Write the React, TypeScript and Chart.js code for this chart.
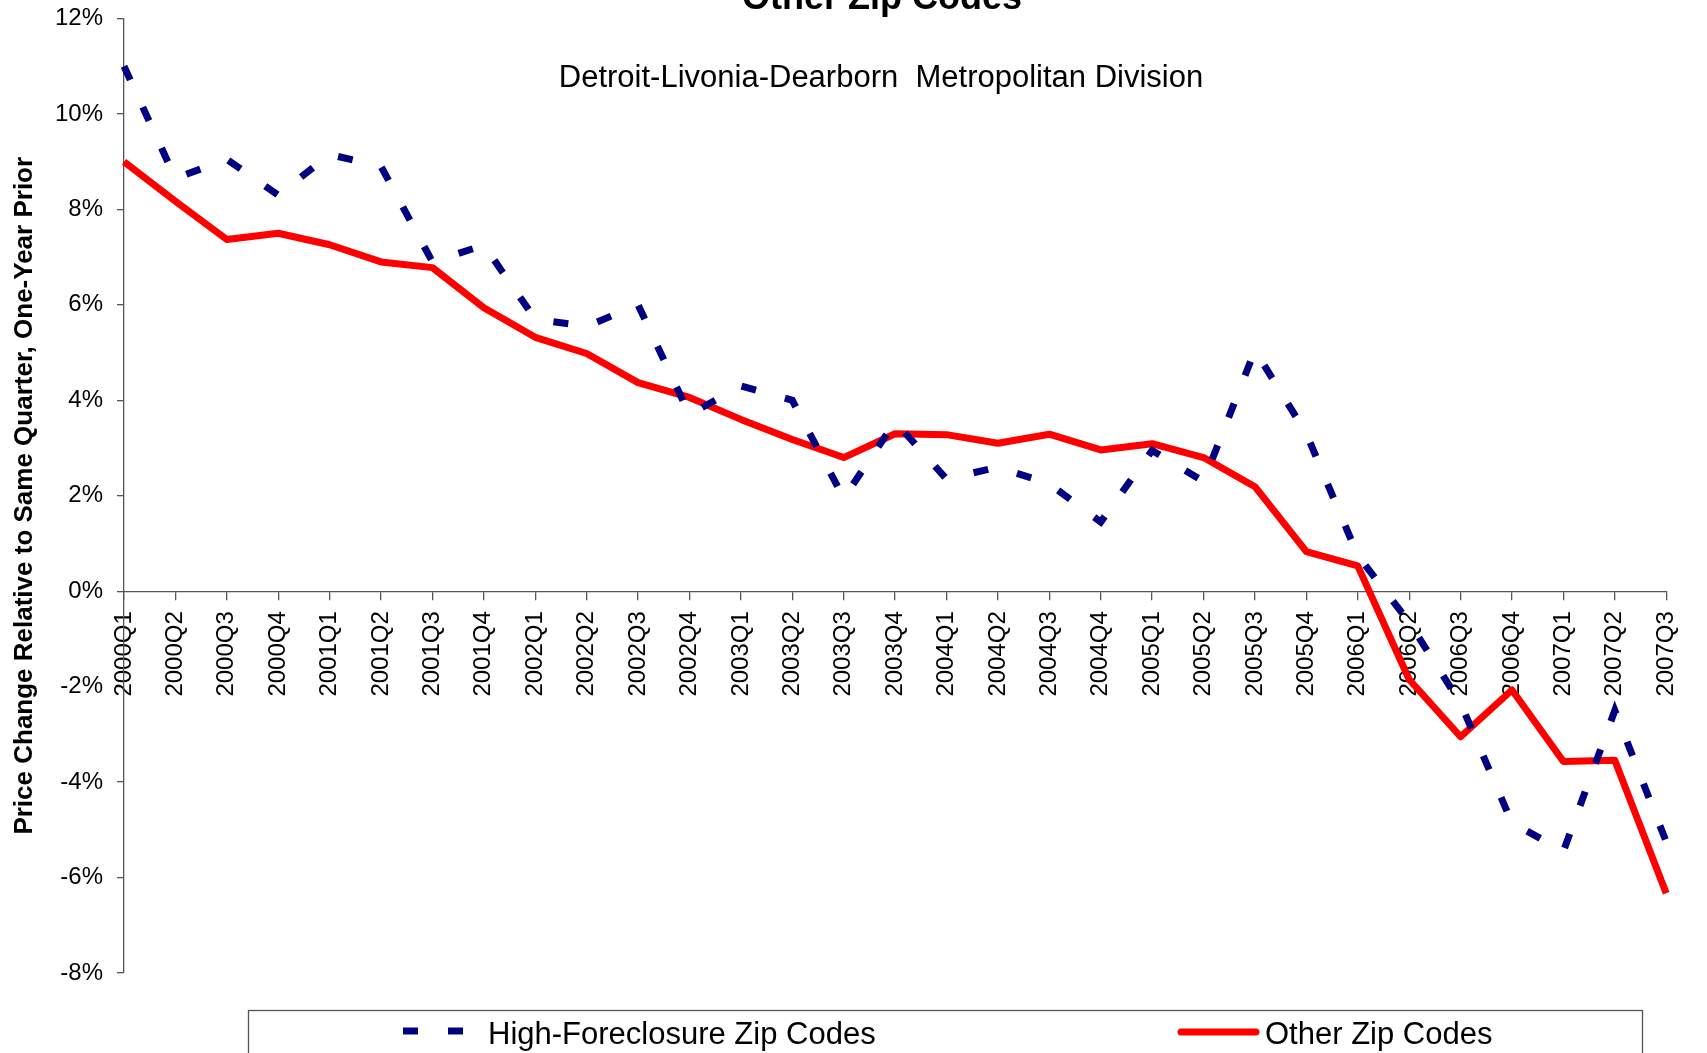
import React, { useEffect, useRef } from 'react';
import { Chart, registerables } from 'chart.js';

Chart.register(...registerables);

// ---- Data ----
const quarters = [
  '2000Q1', '2000Q2', '2000Q3', '2000Q4',
  '2001Q1', '2001Q2', '2001Q3', '2001Q4',
  '2002Q1', '2002Q2', '2002Q3', '2002Q4',
  '2003Q1', '2003Q2', '2003Q3', '2003Q4',
  '2004Q1', '2004Q2', '2004Q3', '2004Q4',
  '2005Q1', '2005Q2', '2005Q3', '2005Q4',
  '2006Q1', '2006Q2', '2006Q3', '2006Q4',
  '2007Q1', '2007Q2', '2007Q3',
];

const highForeclosure = [
  11.0, 8.65, 9.05, 8.3,
  9.15, 8.9, 6.9, 7.25,
  5.7, 5.55, 6.0, 3.7,
  4.3, 4.0, 1.95, 3.55,
  2.35, 2.6, 2.25, 1.45,
  2.95, 2.3, 5.05, 3.3,
  0.75, -0.65, -2.35, -4.85,
  -5.45, -2.5, -5.25,
];

const otherZip = [
  9.0, 8.17, 7.37, 7.5,
  7.26, 6.9, 6.78, 5.94,
  5.32, 4.98, 4.37, 4.06,
  3.6, 3.18, 2.8, 3.3,
  3.28, 3.1, 3.29, 2.96,
  3.09, 2.8, 2.19, 0.83,
  0.53, -1.85, -3.05, -2.07,
  -3.57, -3.54, -6.33,
];

const seriesNames = ['High-Foreclosure Zip Codes', 'Other Zip Codes'];
const yMin = -8;
const yMax = 12;
const yStep = 2;

const chartTitle = 'Other Zip Codes';
const chartSubtitle = 'Detroit-Livonia-Dearborn  Metropolitan Division';
const yAxisTitle = 'Price Change Relative to Same Quarter, One-Year Prior';

const FONT = '"Liberation Sans", Arial, Helvetica, sans-serif';
const AXIS_COLOR = '#555555';

const titlePlugin = {
  id: 'titleText',
  afterDraw(chart: any) {
    const ctx = chart.ctx;
    ctx.save();
    ctx.fillStyle = '#000';
    ctx.textAlign = 'center';
    ctx.textBaseline = 'alphabetic';
    ctx.font = `bold 36px ${FONT}`;
    ctx.fillText(chartTitle, 882, 9);
    ctx.font = `31px ${FONT}`;
    ctx.fillText(chartSubtitle, 881, 87);
    ctx.restore();
  },
};

const legendPlugin = {
  id: 'boxLegend',
  afterDraw(chart: any) {
    const ctx = chart.ctx;
    const ds = chart.data.datasets;
    ctx.save();
    // frame
    ctx.strokeStyle = AXIS_COLOR;
    ctx.lineWidth = 1.3;
    ctx.setLineDash([]);
    ctx.strokeRect(248.5, 1010.5, 1642 - 248, 120);

    const cy = 1031;
    // item 1: dashed
    ctx.beginPath();
    ctx.strokeStyle = ds[0].borderColor;
    ctx.lineWidth = ds[0].borderWidth;
    ctx.lineCap = 'butt';
    ctx.setLineDash(ds[0].borderDash);
    ctx.lineDashOffset = 0;
    ctx.moveTo(403, cy);
    ctx.lineTo(463, cy);
    ctx.stroke();

    // item 2: solid
    ctx.beginPath();
    ctx.setLineDash([]);
    ctx.strokeStyle = ds[1].borderColor;
    ctx.lineWidth = ds[1].borderWidth;
    ctx.lineCap = 'round';
    ctx.moveTo(1181, cy + 1);
    ctx.lineTo(1256, cy + 1);
    ctx.stroke();

    ctx.fillStyle = '#000';
    ctx.font = `31px ${FONT}`;
    ctx.textAlign = 'left';
    ctx.textBaseline = 'alphabetic';
    ctx.fillText(ds[0].label, 488, 1044);
    ctx.fillText(ds[1].label, 1265, 1044);
    ctx.restore();
  },
};

export default function App() {
  const canvasRef = useRef<HTMLCanvasElement | null>(null);

  useEffect(() => {
    if (!canvasRef.current) return;
    Chart.defaults.font.family = FONT;
    const chart = new Chart(canvasRef.current, {
      type: 'line',
      data: {
        labels: quarters,
        datasets: [
          {
            label: seriesNames[0],
            data: highForeclosure,
            borderColor: '#000080',
            backgroundColor: '#000080',
            borderWidth: 7,
            borderDash: [15, 30],
            borderCapStyle: 'butt',
            borderJoinStyle: 'miter',
            pointRadius: 0,
            tension: 0,
            fill: false,
          },
          {
            label: seriesNames[1],
            data: otherZip,
            borderColor: '#FF0000',
            backgroundColor: '#FF0000',
            borderWidth: 7,
            borderCapStyle: 'butt',
            borderJoinStyle: 'round',
            pointRadius: 0,
            tension: 0,
            fill: false,
          },
        ],
      },
      options: {
        responsive: false,
        animation: false,
        devicePixelRatio: 1,
        layout: { padding: { left: 0, right: 25, top: 18.5, bottom: 80 } },
        plugins: {
          legend: { display: false },
          title: { display: false },
          tooltip: { enabled: false },
        },
        scales: {
          x: {
            type: 'category',
            position: { y: 0 } as any,
            offset: false,
            grid: {
              display: true,
              drawOnChartArea: false,
              drawTicks: true,
              tickLength: 8,
              color: AXIS_COLOR,
              lineWidth: 1.3,
            },
            border: { display: true, color: AXIS_COLOR, width: 1.3 },
            ticks: {
              autoSkip: false,
              minRotation: 90,
              maxRotation: 90,
              padding: 12,
              color: '#000',
              font: { size: 24, family: FONT },
            },
          },
          y: {
            type: 'linear',
            position: 'left',
            min: yMin,
            max: yMax,
            afterFit: (scale: any) => {
              scale.width = 124;
              scale.paddingTop = 0;
              scale.paddingBottom = 0;
            },
            grid: {
              display: true,
              drawOnChartArea: false,
              drawTicks: true,
              tickLength: 7,
              color: AXIS_COLOR,
              lineWidth: 1.3,
            },
            border: { display: true, color: AXIS_COLOR, width: 1.3 },
            ticks: {
              stepSize: yStep,
              padding: 14,
              color: '#000',
              font: { size: 24, family: FONT },
              callback: (v: any) => `${v}%`,
            },
            title: {
              display: true,
              text: yAxisTitle,
              color: '#000',
              font: { size: 26, weight: 'bold', family: FONT },
              padding: { top: 9, bottom: 0 },
            },
          },
        },
      },
      plugins: [titlePlugin, legendPlugin],
    } as any);
    return () => chart.destroy();
  }, []);

  return (
    <div style={{ position: 'absolute', left: 0, top: 0, width: 1707, height: 1053, background: '#fff' }}>
      <canvas ref={canvasRef} width={1707} height={1053} style={{ display: 'block' }} />
    </div>
  );
}
